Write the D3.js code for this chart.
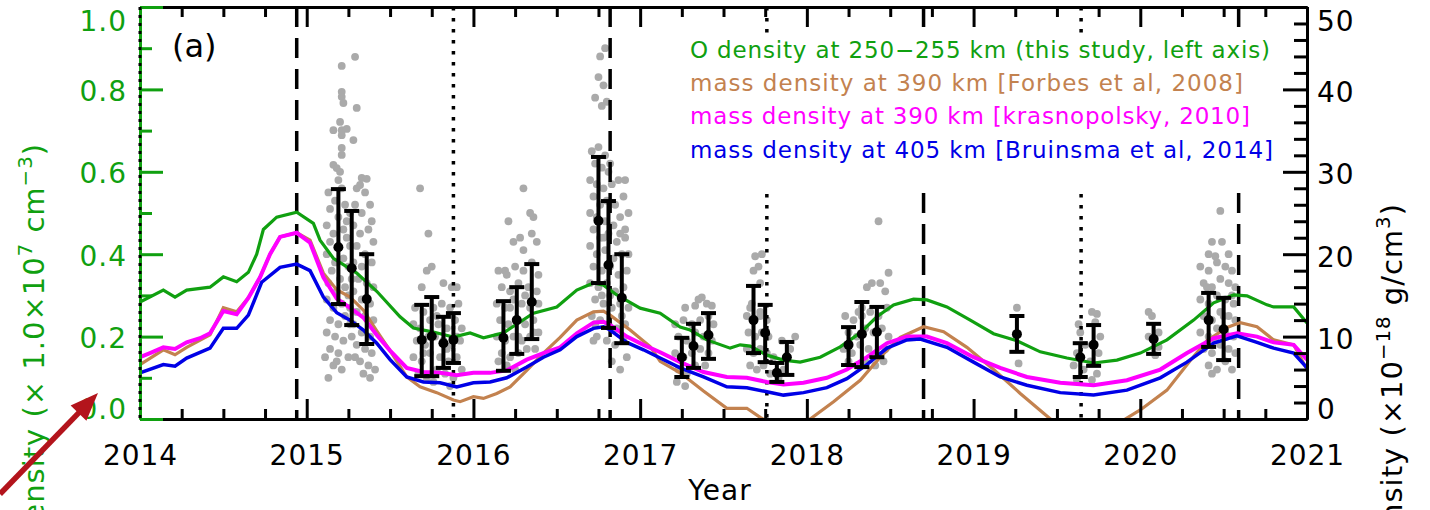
<!DOCTYPE html>
<html>
<head>
<meta charset="utf-8">
<script src="https://cdn.jsdelivr.net/npm/d3@7"></script>
<style>
  body { margin: 0; background: #fff; }
  svg { display: block; font-family: "DejaVu Sans", sans-serif; }
</style>
</head>
<body>
<svg id="chart" width="1430" height="510"></svg>
<script>
// ---- data ----
var yearTicks = [2014, 2015, 2016, 2017, 2018, 2019, 2020, 2021];
var leftTicks = [0.0, 0.2, 0.4, 0.6, 0.8, 1.0];
var rightTicks = [0, 10, 20, 30, 40, 50];

// O density, left axis (x 1.0e7 cm^-3)
var oDensity = [[2014.00,0.284],[2014.14,0.313],[2014.21,0.296],[2014.28,0.313],[2014.42,0.320],[2014.50,0.345],[2014.58,0.333],[2014.65,0.356],[2014.70,0.40],[2014.74,0.46],[2014.82,0.49],[2014.94,0.502],[2015.04,0.475],[2015.08,0.434],[2015.16,0.39],[2015.30,0.354],[2015.42,0.31],[2015.56,0.248],[2015.64,0.221],[2015.76,0.211],[2015.88,0.199],[2015.98,0.209],[2016.06,0.197],[2016.18,0.209],[2016.36,0.257],[2016.50,0.272],[2016.62,0.313],[2016.72,0.330],[2016.78,0.325],[2016.86,0.301],[2017.00,0.269],[2017.12,0.257],[2017.24,0.223],[2017.30,0.216],[2017.40,0.192],[2017.54,0.172],[2017.60,0.180],[2017.66,0.177],[2017.76,0.155],[2017.86,0.143],[2017.96,0.138],[2018.08,0.150],[2018.20,0.175],[2018.32,0.209],[2018.42,0.248],[2018.52,0.277],[2018.64,0.291],[2018.72,0.289],[2018.84,0.272],[2018.98,0.240],[2019.12,0.207],[2019.26,0.190],[2019.40,0.163],[2019.56,0.148],[2019.72,0.136],[2019.86,0.143],[2020.00,0.160],[2020.16,0.192],[2020.32,0.240],[2020.44,0.282],[2020.56,0.301],[2020.64,0.299],[2020.76,0.277],[2020.80,0.272],[2020.92,0.272],[2021.00,0.233]];

// mass density, right axis (x 1e-18 g/cm^3)
var forbes = [[2014.00,6.6],[2014.14,8.4],[2014.21,7.8],[2014.28,8.7],[2014.42,10.2],[2014.50,13.5],[2014.58,13.0],[2014.65,14.7],[2014.72,17.2],[2014.78,20.0],[2014.84,22.1],[2014.94,22.6],[2015.02,21.7],[2015.10,17.7],[2015.18,15.7],[2015.26,14.8],[2015.34,13.2],[2015.42,10.7],[2015.50,8.3],[2015.60,5.1],[2015.68,3.9],[2015.78,3.2],[2015.88,2.3],[2015.92,2.1],[2016.00,2.7],[2016.06,2.5],[2016.14,3.1],[2016.22,3.9],[2016.32,5.9],[2016.42,8.0],[2016.52,9.9],[2016.62,12.0],[2016.72,13.0],[2016.78,13.1],[2016.82,12.6],[2016.88,11.7],[2016.94,10.8],[2017.06,8.8],[2017.12,7.0],[2017.24,5.6],[2017.38,3.4],[2017.52,1.3],[2017.64,1.3],[2017.72,0.2],[2017.80,-0.8],[2017.90,-1.2],[2018.02,0.0],[2018.16,2.1],[2018.32,4.7],[2018.44,7.5],[2018.56,9.9],[2018.70,11.2],[2018.82,10.6],[2018.96,8.7],[2019.12,6.0],[2019.28,3.1],[2019.42,0.7],[2019.52,-1.0],[2019.66,-3.0],[2019.80,-1.8],[2019.91,0.0],[2020.00,1.1],[2020.16,3.5],[2020.30,7.1],[2020.40,9.5],[2020.52,11.1],[2020.60,11.7],[2020.70,11.2],[2020.80,9.6],[2020.92,9.0],[2021.00,6.0]];

var krasno = [[2014.00,7.5],[2014.06,8.0],[2014.14,8.7],[2014.21,8.5],[2014.28,9.3],[2014.36,9.8],[2014.42,10.4],[2014.50,13.1],[2014.58,12.7],[2014.65,14.7],[2014.72,17.2],[2014.78,20.0],[2014.84,22.1],[2014.94,22.6],[2015.02,21.4],[2015.10,17.2],[2015.18,14.6],[2015.26,13.5],[2015.34,12.3],[2015.42,10.2],[2015.50,8.3],[2015.60,6.2],[2015.70,5.7],[2015.80,5.6],[2015.90,5.3],[2016.00,5.6],[2016.10,5.6],[2016.20,5.9],[2016.32,7.2],[2016.42,8.0],[2016.52,8.7],[2016.62,10.4],[2016.72,11.7],[2016.78,11.8],[2016.82,11.4],[2016.92,10.0],[2017.02,9.0],[2017.12,8.1],[2017.24,6.9],[2017.38,5.7],[2017.52,5.1],[2017.64,5.0],[2017.76,4.5],[2017.86,4.2],[2017.98,4.4],[2018.12,5.0],[2018.24,6.0],[2018.36,7.5],[2018.48,9.2],[2018.60,10.0],[2018.72,10.0],[2018.84,9.2],[2019.00,7.5],[2019.16,6.2],[2019.32,5.1],[2019.52,4.4],[2019.72,4.1],[2019.92,4.7],[2020.12,6.0],[2020.28,8.0],[2020.44,9.8],[2020.58,10.4],[2020.70,10.0],[2020.80,9.3],[2020.92,9.0],[2021.00,7.2]];

var bruinsma = [[2014.00,5.6],[2014.14,6.6],[2014.21,6.4],[2014.28,7.4],[2014.42,8.6],[2014.50,11.0],[2014.58,11.0],[2014.65,12.6],[2014.73,16.6],[2014.84,18.4],[2014.94,18.8],[2015.02,18.0],[2015.10,14.8],[2015.18,12.9],[2015.26,12.0],[2015.34,10.8],[2015.42,9.2],[2015.50,7.2],[2015.60,5.1],[2015.70,4.5],[2015.80,4.4],[2015.90,3.9],[2016.00,4.4],[2016.10,4.5],[2016.20,5.0],[2016.32,6.3],[2016.42,7.5],[2016.52,8.4],[2016.62,10.0],[2016.72,11.0],[2016.78,11.2],[2016.82,10.8],[2016.92,9.3],[2017.02,8.4],[2017.12,7.4],[2017.24,6.2],[2017.38,5.1],[2017.52,3.9],[2017.64,3.8],[2017.76,3.3],[2017.86,2.9],[2017.98,3.2],[2018.12,3.8],[2018.24,4.9],[2018.36,6.6],[2018.48,8.6],[2018.60,9.6],[2018.68,9.7],[2018.84,8.7],[2019.00,6.9],[2019.16,5.1],[2019.32,4.1],[2019.52,3.2],[2019.72,2.9],[2019.92,3.5],[2020.12,5.0],[2020.28,6.9],[2020.44,9.2],[2020.58,10.1],[2020.70,9.3],[2020.80,8.6],[2020.92,8.0],[2021.00,6.2]];

// binned observations (left axis): centre, mean, low, high
var binYear = [2015.19,2015.27,2015.36,2015.69,2015.75,2015.82,2015.88,2016.18,2016.26,2016.35,2016.75,2016.81,2016.89,2017.25,2017.32,2017.41,2017.68,2017.75,2017.82,2017.88,2018.25,2018.33,2018.42,2019.26,2019.64,2019.72,2020.08,2020.41,2020.50];
var binMean = [0.417,0.366,0.291,0.192,0.201,0.184,0.192,0.197,0.240,0.284,0.481,0.374,0.294,0.150,0.177,0.204,0.240,0.209,0.112,0.150,0.180,0.206,0.211,0.206,0.150,0.180,0.194,0.240,0.218];
var binLow  = [0.279,0.228,0.182,0.104,0.104,0.124,0.136,0.117,0.158,0.194,0.330,0.221,0.184,0.102,0.124,0.146,0.160,0.138,0.090,0.107,0.131,0.126,0.150,0.163,0.102,0.129,0.158,0.175,0.143];
var binHigh = [0.558,0.505,0.400,0.277,0.296,0.248,0.257,0.286,0.320,0.376,0.636,0.529,0.400,0.197,0.231,0.257,0.323,0.277,0.136,0.187,0.223,0.284,0.272,0.250,0.184,0.228,0.231,0.306,0.294];

// individual retrievals (grey dots, left axis)
var obsDots = [
 [2015.21,0.857],[2015.29,0.879],[2015.21,0.794],[2015.21,0.782],[2015.22,0.767],[2015.30,0.755],[2015.20,0.721],[2015.16,0.701],[2015.21,0.701],[2015.24,0.704],[2015.21,0.689],[2015.28,0.677],[2015.21,0.658],[2015.21,0.641],[2015.16,0.617],[2015.18,0.609],[2015.20,0.600],[2015.19,0.580],[2015.33,0.585],[2015.36,0.583],[2015.32,0.568],
 [2015.13,0.55],[2015.17,0.53],[2015.21,0.56],[2015.14,0.51],[2015.19,0.49],[2015.23,0.52],[2015.12,0.47],[2015.16,0.45],[2015.22,0.46],[2015.14,0.43],[2015.19,0.42],[2015.24,0.44],[2015.12,0.40],[2015.17,0.38],[2015.22,0.39],[2015.15,0.36],[2015.20,0.34],[2015.25,0.37],[2015.13,0.33],[2015.18,0.31],[2015.23,0.32],[2015.12,0.29],[2015.16,0.27],[2015.21,0.28],[2015.25,0.30],[2015.14,0.24],[2015.19,0.23],[2015.23,0.25],[2015.12,0.21],[2015.17,0.20],[2015.22,0.19],[2015.14,0.17],[2015.19,0.16],[2015.11,0.15],[2015.16,0.13],[2015.21,0.12],[2015.13,0.10],[2015.18,0.14],
 [2015.26,0.50],[2015.26,0.42],[2015.27,0.34],[2015.26,0.27],[2015.27,0.20],[2015.25,0.15],[2015.24,0.48],[2015.26,0.23],
 [2015.30,0.56],[2015.35,0.55],[2015.38,0.52],[2015.29,0.52],[2015.33,0.50],[2015.39,0.48],[2015.28,0.47],[2015.32,0.45],[2015.37,0.46],[2015.40,0.43],[2015.30,0.42],[2015.35,0.40],[2015.28,0.38],[2015.33,0.37],[2015.39,0.38],[2015.31,0.34],[2015.36,0.33],[2015.40,0.32],[2015.28,0.31],[2015.33,0.29],[2015.38,0.28],[2015.30,0.26],[2015.35,0.25],[2015.40,0.24],[2015.28,0.23],[2015.33,0.21],[2015.38,0.20],[2015.30,0.18],[2015.35,0.17],[2015.39,0.16],[2015.32,0.14],[2015.37,0.13],[2015.34,0.11],[2015.38,0.10],[2015.29,0.15],[2015.41,0.12],
 [2015.68,0.56],[2015.73,0.45],[2015.72,0.36],[2015.75,0.37],[2015.82,0.33],[2015.69,0.32],[2015.87,0.32],[2015.90,0.32],
 [2015.65,0.27],[2015.70,0.26],[2015.76,0.27],[2015.81,0.28],[2015.86,0.27],[2015.91,0.28],[2015.64,0.23],[2015.68,0.22],[2015.74,0.24],[2015.79,0.23],[2015.84,0.22],[2015.89,0.24],[2015.93,0.22],[2015.66,0.19],[2015.71,0.18],[2015.77,0.20],[2015.82,0.19],[2015.87,0.18],[2015.92,0.19],[2015.64,0.15],[2015.69,0.14],[2015.74,0.16],[2015.80,0.15],[2015.85,0.14],[2015.90,0.15],[2015.67,0.11],[2015.72,0.10],[2015.78,0.12],[2015.83,0.11],[2015.88,0.10],[2015.93,0.12],[2015.86,0.08],[2015.76,0.09],
 [2015.78,0.25],[2015.73,0.20],[2015.90,0.20],[2015.70,0.16],[2015.84,0.17],
 [2016.30,0.56],[2016.21,0.48],[2016.34,0.50],[2016.36,0.49],[2016.28,0.44],[2016.24,0.43],[2016.30,0.41],[2016.35,0.45],[2016.19,0.36],[2016.38,0.43],
 [2016.15,0.36],[2016.20,0.35],[2016.25,0.37],[2016.30,0.36],[2016.35,0.38],[2016.39,0.35],[2016.17,0.32],[2016.22,0.31],[2016.27,0.33],[2016.33,0.32],[2016.38,0.31],[2016.14,0.28],[2016.19,0.27],[2016.24,0.29],[2016.29,0.28],[2016.34,0.27],[2016.39,0.28],[2016.16,0.24],[2016.21,0.23],[2016.26,0.24],[2016.31,0.23],[2016.36,0.24],[2016.14,0.20],[2016.19,0.19],[2016.24,0.20],[2016.29,0.19],[2016.34,0.20],[2016.39,0.21],[2016.17,0.16],[2016.22,0.15],[2016.27,0.16],[2016.32,0.17],[2016.37,0.17],[2016.20,0.13],[2016.25,0.12],[2016.15,0.14],
 [2016.22,0.27],[2016.31,0.30],[2016.27,0.20],[2016.36,0.21],
 [2016.79,0.90],[2016.76,0.88],[2016.75,0.83],[2016.78,0.81],[2016.73,0.78],[2016.80,0.77],[2016.77,0.76],[2016.91,0.58],[2016.90,0.54],[2016.91,0.46],[2016.93,0.50],
 [2016.71,0.65],[2016.75,0.66],[2016.79,0.64],[2016.73,0.62],[2016.77,0.61],[2016.81,0.60],[2016.70,0.58],[2016.74,0.57],[2016.78,0.56],[2016.83,0.57],[2016.72,0.54],[2016.76,0.52],[2016.80,0.53],[2016.85,0.52],[2016.70,0.50],[2016.74,0.49],[2016.79,0.48],[2016.84,0.47],[2016.88,0.49],[2016.72,0.46],[2016.76,0.44],[2016.81,0.45],[2016.86,0.43],[2016.91,0.44],[2016.70,0.42],[2016.74,0.40],[2016.79,0.41],[2016.84,0.39],[2016.89,0.40],[2016.72,0.37],[2016.77,0.36],[2016.82,0.37],[2016.87,0.35],[2016.92,0.36],[2016.70,0.33],[2016.75,0.32],[2016.80,0.33],[2016.85,0.31],[2016.90,0.32],[2016.73,0.29],[2016.78,0.28],[2016.83,0.27],[2016.88,0.28],[2016.93,0.27],[2016.71,0.25],[2016.76,0.24],[2016.81,0.23],[2016.86,0.22],[2016.91,0.23],[2016.74,0.20],[2016.80,0.19],[2016.85,0.18],[2016.90,0.19],[2016.83,0.14],[2016.88,0.12],[2016.72,0.19],[2016.92,0.15],
 [2016.82,0.62],[2016.87,0.58],[2016.88,0.45],[2016.93,0.40],[2016.78,0.44],[2016.77,0.30],[2016.82,0.30],[2016.89,0.25],[2016.73,0.23],
 [2017.27,0.27],[2017.35,0.29],[2017.37,0.295],[2017.40,0.28],[2017.43,0.275],[2017.33,0.275],
 [2017.21,0.23],[2017.26,0.24],[2017.31,0.23],[2017.36,0.24],[2017.41,0.25],[2017.44,0.23],[2017.23,0.20],[2017.28,0.19],[2017.33,0.21],[2017.38,0.20],[2017.43,0.19],[2017.21,0.16],[2017.26,0.15],[2017.31,0.16],[2017.36,0.17],[2017.41,0.16],[2017.23,0.12],[2017.28,0.11],[2017.33,0.13],[2017.39,0.13],[2017.22,0.09],[2017.27,0.08],
 [2017.73,0.40],[2017.69,0.395],[2017.68,0.36],[2017.71,0.37],[2017.72,0.33],[2017.67,0.28],[2017.66,0.27],[2017.72,0.26],[2017.93,0.20],
 [2017.64,0.25],[2017.68,0.24],[2017.72,0.25],[2017.76,0.24],[2017.65,0.21],[2017.69,0.20],[2017.73,0.21],[2017.77,0.20],[2017.64,0.17],[2017.68,0.16],[2017.72,0.17],[2017.76,0.16],[2017.80,0.15],[2017.66,0.13],[2017.70,0.12],[2017.74,0.13],[2017.78,0.11],[2017.83,0.10],[2017.86,0.12],[2017.90,0.17],[2017.85,0.19],
 [2018.43,0.48],[2018.39,0.33],[2018.36,0.32],[2018.44,0.33],[2018.49,0.355],[2018.47,0.31],[2018.33,0.27],[2018.31,0.26],
 [2018.23,0.25],[2018.28,0.24],[2018.33,0.25],[2018.38,0.26],[2018.43,0.25],[2018.48,0.27],[2018.25,0.21],[2018.30,0.20],[2018.35,0.22],[2018.40,0.21],[2018.45,0.22],[2018.49,0.20],[2018.22,0.17],[2018.27,0.16],[2018.32,0.18],[2018.37,0.17],[2018.42,0.16],[2018.47,0.17],[2018.25,0.14],[2018.30,0.13],[2018.35,0.14],[2018.41,0.13],[2018.46,0.14],
 [2019.26,0.27],[2019.27,0.135],
 [2019.63,0.23],[2019.64,0.21],[2019.71,0.26],[2019.74,0.255],[2019.73,0.235],[2019.75,0.16],[2019.62,0.16],[2019.62,0.095],[2019.71,0.095],[2019.66,0.12],[2019.70,0.14],[2019.76,0.20],[2019.60,0.13],[2019.74,0.11],[2019.67,0.18],
 [2020.05,0.26],[2020.07,0.25],[2020.11,0.21],[2020.11,0.175],[2020.05,0.20],[2020.09,0.155],
 [2020.48,0.505],[2020.43,0.43],[2020.49,0.43],[2020.41,0.40],[2020.45,0.395],[2020.53,0.40],
 [2020.36,0.37],[2020.41,0.36],[2020.46,0.38],[2020.51,0.37],[2020.55,0.36],[2020.38,0.33],[2020.43,0.32],[2020.48,0.34],[2020.53,0.33],[2020.57,0.32],[2020.36,0.29],[2020.41,0.28],[2020.46,0.30],[2020.51,0.29],[2020.56,0.28],[2020.38,0.25],[2020.43,0.24],[2020.48,0.26],[2020.53,0.25],[2020.57,0.24],[2020.36,0.21],[2020.41,0.20],[2020.46,0.22],[2020.51,0.21],[2020.56,0.20],[2020.38,0.17],[2020.43,0.16],[2020.48,0.18],[2020.53,0.17],[2020.57,0.16],[2020.41,0.13],[2020.46,0.12],[2020.51,0.14],[2020.55,0.12],[2020.43,0.11],
 [2020.40,0.32],[2020.50,0.25],[2020.45,0.19],[2020.55,0.30]
];

// vertical marker lines
var dashedYears = [2014.94, 2016.82, 2018.70, 2020.59];
var dottedYears = [2015.88, 2017.76, 2019.645];

var legendText = [
  "O density at 250\u2212255 km (this study, left axis)",
  "mass density at 390 km [Forbes et al, 2008]",
  "mass density at 390 km [krasnopolsky, 2010]",
  "mass density at 405 km [Bruinsma et al, 2014]"
];
var legendColor = ["#10a010", "#c3824f", "#ff00ff", "#0000e6"];
var legendWidth = [580, 553, 560, 583];

// ---- drawing ----
var L = 140, R = 1307, T = 7, B = 419;
var green = legendColor[0];

var svg = d3.select("#chart");
var x = d3.scaleLinear().domain([2014, 2021]).range([L, R]);
var yL = d3.scaleLinear().domain([0, 1]).range([B, T]);
var yR = d3.scaleLinear().domain([0, 50]).range([B, T]);

svg.append("defs").append("clipPath").attr("id", "plot")
  .append("rect").attr("x", L).attr("y", T).attr("width", R - L).attr("height", B - T);

// grey dots
svg.append("g").selectAll("circle")
  .data(obsDots)
  .join("circle")
  .attr("cx", function(d) { return x(d[0]); })
  .attr("cy", function(d) { return yL(d[1]); })
  .attr("r", 3.9)
  .attr("fill", "#aaaaaa");

// vertical dashed / dotted lines
var vlines = svg.append("g");
vlines.selectAll(".dash").data(dashedYears).join("line")
  .attr("class", "dash")
  .attr("x1", function(d) { return x(d); }).attr("x2", function(d) { return x(d); })
  .attr("y1", T).attr("y2", B)
  .attr("stroke", "#000").attr("stroke-width", 3.5)
  .attr("stroke-dasharray", "20,11");
vlines.selectAll(".dot").data(dottedYears).join("line")
  .attr("class", "dot")
  .attr("x1", function(d) { return x(d); }).attr("x2", function(d) { return x(d); })
  .attr("y1", T).attr("y2", B)
  .attr("stroke", "#000").attr("stroke-width", 3.5)
  .attr("stroke-dasharray", "3.5,7.5");

// legend background
svg.append("rect").attr("x", 683).attr("y", 33).attr("width", 603).attr("height", 160).attr("fill", "#fff");

// curves
var curves = svg.append("g").attr("clip-path", "url(#plot)");
var lineL = d3.line().x(function(d) { return x(d[0]); }).y(function(d) { return yL(d[1]); });
var lineR = d3.line().x(function(d) { return x(d[0]); }).y(function(d) { return yR(d[1]); });

curves.append("path").datum(oDensity).attr("d", lineL)
  .attr("fill", "none").attr("stroke", green).attr("stroke-width", 3.2);
curves.append("path").datum(forbes).attr("d", lineR)
  .attr("fill", "none").attr("stroke", legendColor[1]).attr("stroke-width", 3.2);
curves.append("path").datum(krasno).attr("d", lineR)
  .attr("fill", "none").attr("stroke", legendColor[2]).attr("stroke-width", 4);
curves.append("path").datum(bruinsma).attr("d", lineR)
  .attr("fill", "none").attr("stroke", legendColor[3]).attr("stroke-width", 3.5);

// error bars
var bars = svg.append("g").selectAll("g").data(binYear).join("g");
bars.append("line")
  .attr("x1", function(d) { return x(d); }).attr("x2", function(d) { return x(d); })
  .attr("y1", function(d, i) { return yL(binLow[i]); })
  .attr("y2", function(d, i) { return yL(binHigh[i]); })
  .attr("stroke", "#000").attr("stroke-width", 4);
[binLow, binHigh].forEach(function(arr) {
  bars.append("line")
    .attr("x1", function(d) { return x(d) - 7.5; }).attr("x2", function(d) { return x(d) + 7.5; })
    .attr("y1", function(d, i) { return yL(arr[i]); })
    .attr("y2", function(d, i) { return yL(arr[i]); })
    .attr("stroke", "#000").attr("stroke-width", 4);
});
bars.append("circle")
  .attr("cx", function(d) { return x(d); })
  .attr("cy", function(d, i) { return yL(binMean[i]); })
  .attr("r", 5).attr("fill", "#000");

// axes
function tidy(g, color) {
  g.attr("font-family", null).attr("font-size", null);
  g.select(".domain").attr("stroke", color).attr("stroke-width", 3);
  g.selectAll(".tick line").attr("stroke", color).attr("stroke-width", 3);
  g.selectAll(".tick text").attr("fill", color).attr("font-size", 28).attr("letter-spacing", 1);
}
var quarterTicks = d3.range(2014, 2021.01, 0.25).filter(function(v) { return v % 1 !== 0; });

var gb = svg.append("g").attr("transform", "translate(0," + B + ")")
  .call(d3.axisBottom(x).tickValues(yearTicks).tickFormat(d3.format("d")).tickSize(-20).tickSizeOuter(0));
tidy(gb, "#000");
gb.selectAll(".tick text").attr("y", 46).attr("dy", null);
var gbm = svg.append("g").attr("transform", "translate(0," + B + ")")
  .call(d3.axisBottom(x).tickValues(quarterTicks).tickFormat("").tickSize(-10).tickSizeOuter(0));
tidy(gbm, "#000");

var gt = svg.append("g").attr("transform", "translate(0," + T + ")")
  .call(d3.axisTop(x).tickValues(yearTicks).tickFormat("").tickSize(-20).tickSizeOuter(0));
tidy(gt, "#000");
var gtm = svg.append("g").attr("transform", "translate(0," + T + ")")
  .call(d3.axisTop(x).tickValues(quarterTicks).tickFormat("").tickSize(-10).tickSizeOuter(0));
tidy(gtm, "#000");

var gr = svg.append("g").attr("transform", "translate(" + R + ",0)")
  .call(d3.axisRight(yR).tickValues(rightTicks).tickFormat(d3.format("d")).tickSize(-24).tickSizeOuter(0));
tidy(gr, "#000");
gr.selectAll(".tick text").attr("x", 10)
  .attr("dy", function(d) { return d === 50 ? 23 : (d === 0 ? -1 : 12); });
var grm = svg.append("g").attr("transform", "translate(" + R + ",0)")
  .call(d3.axisRight(yR).tickValues(d3.range(2, 50, 2).filter(function(v) { return v % 10 !== 0; }))
    .tickFormat("").tickSize(-13).tickSizeOuter(0));
tidy(grm, "#000");

var gl = svg.append("g").attr("transform", "translate(" + L + ",0)")
  .call(d3.axisLeft(yL).tickValues(leftTicks).tickFormat(d3.format(".1f")).tickSize(-23).tickSizeOuter(0));
tidy(gl, green);
gl.selectAll(".tick text").attr("x", -13)
  .attr("dy", function(d) { return d === 1 ? 23 : (d === 0 ? -1 : 11); });
var glm = svg.append("g").attr("transform", "translate(" + L + ",0)")
  .call(d3.axisLeft(yL).tickValues([0.1, 0.3, 0.5, 0.7, 0.9]).tickFormat("").tickSize(-12).tickSizeOuter(0));
tidy(glm, green);
// black dotted overlay on the left frame
svg.append("line").attr("x1", L).attr("x2", L).attr("y1", T).attr("y2", B)
  .attr("stroke", "#000").attr("stroke-width", 3).attr("stroke-dasharray", "3,5");

// axis titles
function richText(sel, parts, size) {
  parts.forEach(function(p) {
    if (p.sup) {
      sel.append("tspan").attr("font-size", size * 0.68).attr("dy", -size * 0.42).text(p.t);
    } else {
      sel.append("tspan").attr("dy", p.after ? size * 0.42 : 0).text(p.t);
    }
  });
}
var lt = svg.append("text")
  .attr("transform", "translate(44,143) rotate(-90)")
  .attr("text-anchor", "end").attr("fill", green).attr("font-size", 29).attr("letter-spacing", 1);
richText(lt, [{t: "O density (\u00d7 1.0\u00d710"}, {t: "7", sup: true}, {t: " cm", after: true}, {t: "\u22123", sup: true}, {t: ")", after: true}], 29);

var rt = svg.append("text")
  .attr("transform", "translate(1402,203) rotate(-90)")
  .attr("text-anchor", "end").attr("fill", "#000").attr("font-size", 29).attr("letter-spacing", 1);
richText(rt, [{t: "Mass density (\u00d710"}, {t: "\u221218", sup: true}, {t: " g/cm", after: true}, {t: "3", sup: true}, {t: ")", after: true}], 29);

svg.append("text").attr("x", 720).attr("y", 500).attr("text-anchor", "middle")
  .attr("font-size", 28).attr("letter-spacing", 1).text("Year");

svg.append("text").attr("x", 172).attr("y", 57).attr("font-size", 32).text("(a)");

// legend
svg.append("g").selectAll("text").data(legendText).join("text")
  .attr("x", 690)
  .attr("y", function(d, i) { return 58 + i * 33.2; })
  .attr("fill", function(d, i) { return legendColor[i]; })
  .attr("font-size", 23)
  .attr("textLength", function(d, i) { return legendWidth[i]; })
  .attr("lengthAdjust", "spacing")
  .text(function(d) { return d; });

// red annotation arrow
var tip = [98, 393], tail = [0, 494];
var ux = (tip[0] - tail[0]), uy = (tip[1] - tail[1]);
var len = Math.sqrt(ux * ux + uy * uy); ux /= len; uy /= len;
var bx = tip[0] - 28 * ux, by = tip[1] - 28 * uy;
svg.append("line").attr("x1", tail[0]).attr("y1", tail[1]).attr("x2", bx + 2 * ux).attr("y2", by + 2 * uy)
  .attr("stroke", "#b3141c").attr("stroke-width", 5.5);
svg.append("polygon")
  .attr("points", [tip, [bx - uy * 11, by + ux * 11], [bx + uy * 11, by - ux * 11]].map(function(p) { return p.join(","); }).join(" "))
  .attr("fill", "#b3141c");
</script>
</body>
</html>
